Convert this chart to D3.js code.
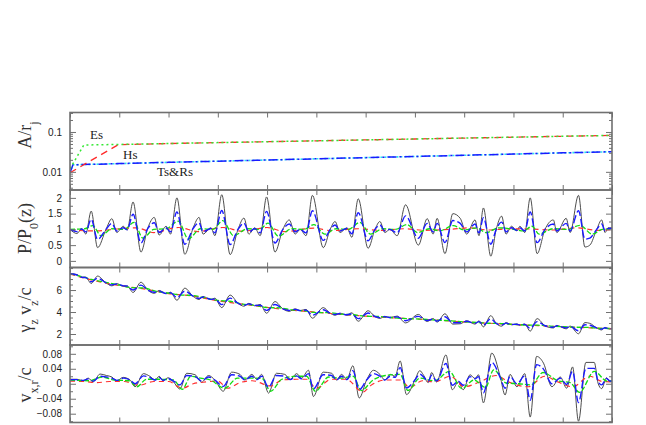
<!DOCTYPE html>
<html><head><meta charset="utf-8">
<script src="https://cdn.jsdelivr.net/npm/d3@7"></script>
<style>html,body{margin:0;padding:0;background:#fff;}svg{display:block;}</style>
</head><body>
<svg id="chart" width="646" height="425"></svg>
<script>
// ---------------- DATA ----------------
const xTickValues = [0,10,20,30,40,50,60,70,80,90,100,110];

// Panel 1 : A / r_j (log)
const esX = [0, 0.6, 2.8, 10, 20, 30, 40, 50, 60, 70, 80, 90, 100, 110];
const esY = [0.012, 0.016, 0.047, 0.0487, 0.0513, 0.0541, 0.057, 0.06, 0.0633, 0.0667, 0.0703, 0.074, 0.078, 0.082];
const hsX = [0, 9.8, 20, 30, 40, 50, 60, 70, 80, 90, 100, 110];
const hsY = [0.0095, 0.048, 0.0513, 0.0541, 0.057, 0.06, 0.0633, 0.0667, 0.0703, 0.074, 0.078, 0.082];
const rsX = [0, 0.6, 10, 20, 30, 40, 50, 60, 70, 80, 90, 100, 110];
const rsY = [0.0095, 0.015, 0.0161, 0.0173, 0.0185, 0.0198, 0.0212, 0.0227, 0.0243, 0.026, 0.0279, 0.0299, 0.032];
const tsY = [0.0095, 0.015, 0.0161, 0.0173, 0.0185, 0.0198, 0.0212, 0.0227, 0.0243, 0.026, 0.0279, 0.0299, 0.032];
const p1TickLabels = [0.01, 0.1];

// Panels 2 & 3 share sample positions
const pX = [0,1.4,2.4,3.2,4.3,5.6,7.3,8.5,9.5,10.8,11.6,12.8,14.4,15.8,17.1,18.1,19.5,20.4,21.7,23.3,25.0,26.2,27.0,28.6,29.4,30.8,32.5,34.1,35.3,36.3,37.5,38.6,39.9,41.6,43.2,44.5,45.7,46.7,47.9,49.2,51.4,52.8,53.8,54.8,56.2,57.2,58.5,60.5,61.9,62.9,63.9,64.9,66.4,68.1,70.7,72.5,73.7,74.5,76.1,77.7,79.2,80.5,82.2,83.0,83.9,85.4,86.5,87.6,88.5,89.6,90.7,91.3,92.3,93.4,94.8,96.4,98.1,98.8,100.7,101.5,103.2,104.5,105.5,106.9,107.9,108.6,109.2,110];

// Panel 2 : P / P0(z)
const pBlack = [1.0,0.87,1.02,0.85,1.58,0.42,1.0,1.34,0.9,1.1,0.98,1.87,0.28,1.05,1.38,0.82,1.1,0.85,2.0,0.21,1.05,1.38,0.85,1.05,0.8,2.1,0.2,1.0,1.36,0.85,1.05,0.8,2.03,0.28,1.0,1.3,0.85,1.0,0.8,2.08,0.42,1.0,1.25,0.9,1.05,0.75,1.97,0.4,1.0,1.25,0.9,1.0,0.8,1.78,0.5,1.34,0.85,1.35,0.23,1.5,1.35,0.85,1.3,0.8,1.68,0.15,1.0,1.42,0.85,1.1,0.95,1.1,0.9,2.0,0.23,1.0,1.3,0.9,1.35,0.9,2.08,0.44,0.5,1.0,1.3,0.9,1.05,1.05];
const pBlue = [1.0,0.93,1.01,0.92,1.32,0.68,1.0,1.19,0.95,1.05,0.99,1.48,0.57,1.03,1.21,0.9,1.05,0.92,1.55,0.53,1.03,1.21,0.92,1.03,0.89,1.6,0.52,1.0,1.2,0.92,1.03,0.89,1.57,0.57,1.0,1.17,0.92,1.0,0.89,1.59,0.65,1.0,1.14,0.95,1.03,0.86,1.53,0.64,1.0,1.14,0.95,1.0,0.89,1.43,0.72,1.19,0.92,1.19,0.58,1.28,1.19,0.92,1.17,0.89,1.37,0.53,1.0,1.23,0.92,1.05,0.97,1.05,0.95,1.55,0.58,1.0,1.17,0.95,1.19,0.95,1.59,0.69,0.72,1.0,1.17,0.95,1.03,1.03];
const pGreenX = [0,3,4.6,6.3,8.5,11,13.0,14.8,17,19.5,22.0,24.0,26.5,29,31.0,33.2,36,38.5,40.2,42.3,45,47.5,49.5,51.7,54,56.5,58.8,61,63.5,66,68.4,70.5,73,75,77.8,80,82.5,84.5,87,90,92,93.8,95.2,98,101,103.5,106,108,110];
const pGreen = [1.0,1.02,1.12,0.8,1.02,1.0,1.22,0.72,1.0,1.02,1.26,0.7,1.02,1.0,1.28,0.8,1.02,1.0,1.2,0.78,1.02,1.0,1.15,0.85,1.02,1.0,1.22,0.85,1.02,1.0,1.15,0.9,1.02,0.95,1.12,0.98,1.05,0.9,1.05,1.0,0.95,1.1,0.85,1.02,1.0,1.13,0.85,1.0,1.02];
const pRedX = [0,5,10,13.5,17,22,26,31,35,40,43.5,49.5,53,58.5,63,68,72,77,81,85,89,94,98,103,107,110];
const pRed = [0.98,0.95,1.02,1.05,0.9,1.06,0.93,1.06,0.94,1.06,0.93,1.04,0.96,1.02,0.97,1.02,0.97,1.0,1.05,0.98,1.02,1.01,0.98,1.05,0.97,1.0];
const p2TickLabels = [0, 0.5, 1, 1.5, 2];

// Panel 3 : gamma_z v_z / c
const vzBlack = [7.5,7.41,7.16,7.18,6.6,7.27,6.66,6.38,6.58,6.36,6.37,5.78,6.71,5.99,5.7,5.96,5.67,5.8,5.07,6.17,5.42,5.14,5.41,5.13,5.26,4.4,5.54,4.8,4.53,4.79,4.57,4.69,3.89,4.95,4.29,4.06,4.29,4.13,4.24,3.44,4.4,3.89,3.71,3.89,3.73,3.93,3.16,4.12,3.59,3.42,3.61,3.5,3.63,3.01,3.78,3.14,3.41,3.08,3.84,2.9,2.93,3.21,2.9,3.2,2.65,3.67,2.96,2.71,3.04,2.84,2.91,2.8,2.91,2.26,3.4,2.75,2.55,2.78,2.47,2.72,2.02,3.04,2.97,2.55,2.37,2.6,2.48,2.47];
const vzBlue = [7.5,7.37,7.16,7.13,6.75,7.07,6.66,6.47,6.55,6.38,6.36,6.0,6.45,6.0,5.8,5.9,5.69,5.75,5.32,5.9,5.44,5.24,5.36,5.15,5.19,4.67,5.26,4.8,4.62,4.74,4.59,4.62,4.15,4.69,4.29,4.14,4.24,4.13,4.17,3.71,4.2,3.89,3.78,3.86,3.75,3.84,3.4,3.91,3.59,3.49,3.58,3.5,3.56,3.21,3.6,3.23,3.36,3.17,3.57,3.02,3.02,3.16,2.97,3.13,2.82,3.37,2.96,2.81,2.99,2.86,2.89,2.82,2.88,2.51,3.13,2.75,2.62,2.75,2.56,2.69,2.29,2.84,2.8,2.55,2.44,2.57,2.5,2.49];
const vzGreenX = [0,2.5,5,7.5,10,12.5,15,17.5,20,22.5,25,27.5,30,32.5,35,37.5,40,42.5,45,47.5,50,52.5,55,57.5,60,62.5,65,67.5,70,72.5,75,77.5,80,82.5,85,87.5,90,92.5,95,97.5,100,102.5,105,107.5,110];
const vzGreen = [7.5,7.2,6.9,6.68,6.45,6.22,6.18,5.88,5.72,5.55,5.5,5.28,5.05,4.98,4.72,4.62,4.4,4.38,4.2,4.1,3.95,3.95,3.8,3.75,3.62,3.6,3.5,3.42,3.38,3.32,3.25,3.2,3.1,3.05,2.98,2.95,2.88,2.82,2.8,2.72,2.66,2.62,2.6,2.52,2.5];
const vzRedX = [0,5,10,15,20,25,30,35,40,45,50,55,60,65,70,75,80,85,90,95,100,105,110];
const vzRed = [7.45,6.85,6.4,6.1,5.68,5.45,5.02,4.72,4.42,4.17,3.98,3.78,3.63,3.48,3.38,3.24,3.1,2.98,2.87,2.76,2.66,2.57,2.49];
const p3TickLabels = [2, 4, 6];

// Panel 4 : v_x,r / c
const vxX = [0,1.4,2.7,3.7,4.7,6.1,7.4,8.5,9.5,10.8,12.2,13.2,14.9,16.2,17.3,18.1,18.9,19.9,21.0,22.3,23.7,25.4,26.7,28.1,29.4,31.1,32.8,34.5,35.5,36.9,37.9,38.9,40.3,41.9,43.6,44.7,46.0,47.0,48.4,49.4,51.4,53.1,54.1,55.1,56.2,57.4,58.7,60.2,61.6,62.9,63.9,65.0,66.0,67.0,68.3,70.0,71.0,71.7,72.7,73.4,74.4,76.3,77.6,78.8,79.8,81.2,82.2,82.9,83.9,85.6,87.3,88.3,89.3,90.7,92.3,93.4,94.7,96.1,97.8,99.5,100.8,102.0,103.2,104.7,106.4,107.2,107.9,108.9,109.6,110];
const vxBlack = [0.012,0.012,0.008,0.015,0.005,0.026,0.022,0.018,0.008,0.017,0.010,-0.008,0.027,0.020,0.010,0.020,0.008,0.016,0.005,-0.014,0.028,0.024,0.004,0.022,0.010,-0.020,0.031,0.025,0.010,0.025,0.012,0.025,-0.025,0.028,0.025,0.012,0.027,0.015,0.036,-0.034,0.031,0.028,0.010,0.025,0.012,0.048,-0.038,0.010,0.036,0.025,0.010,0.025,0.020,0.061,-0.029,0.010,0.035,0.024,0.003,0.030,0.005,0.077,-0.016,0.005,-0.016,0.024,0.014,0.024,-0.051,0.082,0.020,-0.030,0.025,-0.008,0.027,-0.089,0.073,0.055,-0.008,0.018,-0.012,0.045,-0.100,0.057,0.057,0.000,-0.013,0.016,0.005,0.006];
const vxBlue = [0.011,0.011,0.009,0.013,0.007,0.020,0.018,0.015,0.009,0.015,0.010,0.000,0.021,0.017,0.010,0.017,0.009,0.014,0.007,-0.003,0.022,0.019,0.007,0.018,0.010,-0.007,0.024,0.020,0.010,0.020,0.011,0.020,-0.009,0.022,0.020,0.011,0.021,0.013,0.027,-0.014,0.024,0.022,0.010,0.020,0.011,0.035,-0.016,0.010,0.027,0.020,0.010,0.020,0.017,0.043,-0.011,0.010,0.026,0.019,0.006,0.023,0.007,0.054,-0.004,0.007,-0.004,0.019,0.013,0.019,-0.024,0.057,0.017,-0.012,0.020,0.000,0.021,-0.044,0.051,0.039,0.000,0.015,-0.002,0.033,-0.050,0.041,0.041,0.005,-0.003,0.014,0.007,0.008];
const vxGreenX = [0,4,6.5,9,12,13.6,15.5,18,21,22.8,24.5,26.5,28.5,31.4,34,37,39,40.7,43,46,48,49.8,52.5,55,57.5,59.1,61.5,64,67,68.6,71,74,77,79.5,82,84.3,86,88.5,91,93.6,96,99,101.5,103.4,106.4,109,110];
const vxGreen = [0.01,0.008,0.018,0.01,0.008,-0.008,0.012,0.012,0.01,-0.015,0.02,0.015,0.01,-0.012,0.015,0.015,0.014,-0.02,0.012,0.02,0.02,-0.02,0.018,0.015,0.02,-0.018,0.01,0.022,0.025,-0.018,0.015,0.008,0.033,-0.013,0.01,-0.01,0.037,0.002,0.0,-0.003,0.03,0.008,0.003,-0.023,0.033,0.007,0.008];
const vxRedX = [0,3,5.5,8,11,14,17,20,22.8,25,27,30,32,34.5,37,40.8,43,46,48,50,53,56,59.5,61,64,67,69,71.5,74,77.2,80,83,86.5,89,93,96.3,99,102,105.5,108,110];
const vxRed = [0.007,0.006,0.003,0.006,0.006,-0.004,0.006,0.006,-0.012,0.0,0.004,0.007,-0.012,0.003,0.008,-0.006,0.01,0.012,0.012,-0.012,0.012,0.012,-0.022,-0.005,0.01,0.01,-0.01,0.008,0.005,0.02,-0.008,0.004,0.022,0.005,-0.008,0.02,0.005,-0.008,0.02,0.006,0.005];
const p4TickLabels = [-0.08, -0.04, 0, 0.04, 0.08];

// ---------------- DRAWING ----------------
const svg = d3.select("#chart");
const L = 70, R = 612;
const x = d3.scaleLinear().domain([0, 110]).range([L, R]);
const frameColor = "#707070";
const zip = (xs, ys) => xs.map((v, i) => [v, ys[i]]);

const panels = [
  {top: 112.5, bot: 190, scale: d3.scaleLog().domain([0.0035, 0.308]),
   major: p1TickLabels, minor: [0.004,0.005,0.006,0.007,0.008,0.009,0.02,0.03,0.04,0.05,0.06,0.07,0.08,0.09,0.2,0.3],
   fmt: d => String(d), title: [["A/r",""],["j","sub"]], titleY: 135},
  {top: 190, bot: 267.5, scale: d3.scaleLinear().domain([-0.21, 2.25]),
   major: p2TickLabels, minor: [0.25,0.75,1.25,1.75],
   fmt: d => String(d), title: [["P/P",""],["0","sub"],["(z)",""]], titleY: 228.5},
  {top: 267.5, bot: 345, scale: d3.scaleLinear().domain([1, 8.05]),
   major: p3TickLabels, minor: [1.5,2.5,3,3.5,4.5,5,5.5,6.5,7,7.5,8],
   fmt: d => String(d), title: [["γ",""],["z","sub"],[" v",""],["z","sub"],["/c",""]], titleY: 310},
  {top: 345, bot: 422.5, scale: d3.scaleLinear().domain([-0.1035, 0.1035]),
   major: p4TickLabels, minor: [-0.1,-0.06,-0.02,0.02,0.06,0.1],
   fmt: d => d === 0 ? "0" : d3.format(".2f")(d), title: [["v",""],["x,r","sub"],["/c",""]], titleY: 385}
];
panels.forEach(p => p.scale.range([p.bot, p.top]));

const defs = svg.append("defs");
panels.forEach((p, i) => {
  defs.append("clipPath").attr("id", "clip" + i)
    .append("rect").attr("x", L).attr("y", p.top).attr("width", R - L).attr("height", p.bot - p.top);
});

function styleAxis(g) {
  g.select(".domain").remove();
  g.selectAll(".tick line").attr("stroke", frameColor).attr("stroke-width", 1);
  g.selectAll(".tick text").attr("fill", "#222")
    .style("font-family", "'Liberation Sans', Arial, sans-serif").style("font-size", "10px");
}

function drawSeries(i, data, color, width, dash, curve) {
  const p = panels[i];
  const line = d3.line().x(d => x(d[0])).y(d => p.scale(d[1])).curve(curve);
  svg.append("path").attr("clip-path", `url(#clip${i})`)
    .attr("d", line(data)).attr("fill", "none").attr("stroke", color)
    .attr("stroke-width", width).attr("stroke-dasharray", dash)
    .attr("stroke-linejoin", "round");
}

const mono = d3.curveMonotoneX, lin = d3.curveLinear;
// Panel 1
drawSeries(0, zip(rsX, tsY), "#22e6f0", 1.6, "2,2", lin);
drawSeries(0, zip(rsX, rsY), "#1a1aff", 1.5, "9,3,2,3", lin);
drawSeries(0, zip(hsX, hsY), "#ff2a2a", 1.3, "7,5", lin);
drawSeries(0, zip(esX, esY), "#33e833", 1.5, "2,3", lin);
// Panel 2
drawSeries(1, zip(pX, pBlack), "#3a3a3a", 0.9, null, mono);
drawSeries(1, zip(pRedX, pRed), "#ff3030", 1.2, "5,4", mono);
drawSeries(1, zip(pGreenX, pGreen), "#11dd11", 1.3, "5,2", mono);
drawSeries(1, zip(pX, pBlue), "#1a1aff", 1.4, "8,3", mono);
// Panel 3
drawSeries(2, zip(pX, vzBlack), "#3a3a3a", 0.9, null, mono);
drawSeries(2, zip(vzRedX, vzRed), "#ff3030", 1.2, "5,4", mono);
drawSeries(2, zip(vzGreenX, vzGreen), "#11dd11", 1.3, "5,2", mono);
drawSeries(2, zip(pX, vzBlue), "#1a1aff", 1.4, "8,3", mono);
// Panel 4
drawSeries(3, zip(vxX, vxBlack), "#3a3a3a", 0.9, null, mono);
drawSeries(3, zip(vxRedX, vxRed), "#ff3030", 1.2, "5,4", mono);
drawSeries(3, zip(vxGreenX, vxGreen), "#11dd11", 1.3, "5,2", mono);
drawSeries(3, zip(vxX, vxBlue), "#1a1aff", 1.4, "8,3", mono);

// Axes and frames
panels.forEach((p, i) => {
  svg.append("g").attr("transform", `translate(0,${p.top})`)
    .call(d3.axisTop(x).tickValues(xTickValues).tickSize(-5).tickSizeOuter(0).tickFormat(""))
    .call(styleAxis);
  svg.append("g").attr("transform", `translate(0,${p.bot})`)
    .call(d3.axisBottom(x).tickValues(xTickValues).tickSize(-5).tickSizeOuter(0).tickFormat(""))
    .call(styleAxis);
  svg.append("g").attr("transform", `translate(${L},0)`)
    .call(d3.axisLeft(p.scale).tickValues(p.major).tickSize(-6).tickPadding(8).tickSizeOuter(0).tickFormat(p.fmt))
    .call(styleAxis);
  svg.append("g").attr("transform", `translate(${L},0)`)
    .call(d3.axisLeft(p.scale).tickValues(p.minor).tickSize(-3).tickSizeOuter(0).tickFormat(""))
    .call(styleAxis);
  svg.append("g").attr("transform", `translate(${R},0)`)
    .call(d3.axisRight(p.scale).tickValues(p.major).tickSize(-6).tickSizeOuter(0).tickFormat(""))
    .call(styleAxis);
  svg.append("g").attr("transform", `translate(${R},0)`)
    .call(d3.axisRight(p.scale).tickValues(p.minor).tickSize(-3).tickSizeOuter(0).tickFormat(""))
    .call(styleAxis);
  svg.append("rect").attr("x", L).attr("y", p.top).attr("width", R - L).attr("height", p.bot - p.top)
    .attr("fill", "none").attr("stroke", frameColor).attr("stroke-width", 1.6);
  const t = svg.append("text")
    .attr("transform", `translate(31,${p.titleY}) rotate(-90)`)
    .attr("text-anchor", "middle")
    .style("font-family", "'Liberation Serif', 'Times New Roman', serif")
    .style("font-size", "18px").attr("fill", "#333");
  p.title.forEach(([s, kind]) => {
    const ts = t.append("tspan").text(s);
    if (kind === "sub") ts.attr("baseline-shift", "sub").style("font-size", "12px");
  });
});

// Labels in panel 1
const lab = [["Es", 90, 139], ["Hs", 123, 159], ["Ts&Rs", 157, 176]];
lab.forEach(([s, lx, ly]) => {
  svg.append("text").attr("x", lx).attr("y", ly).text(s)
    .style("font-family", "'Liberation Serif', 'Times New Roman', serif")
    .style("font-size", "13px").attr("fill", "#222");
});
</script>
</body></html>
